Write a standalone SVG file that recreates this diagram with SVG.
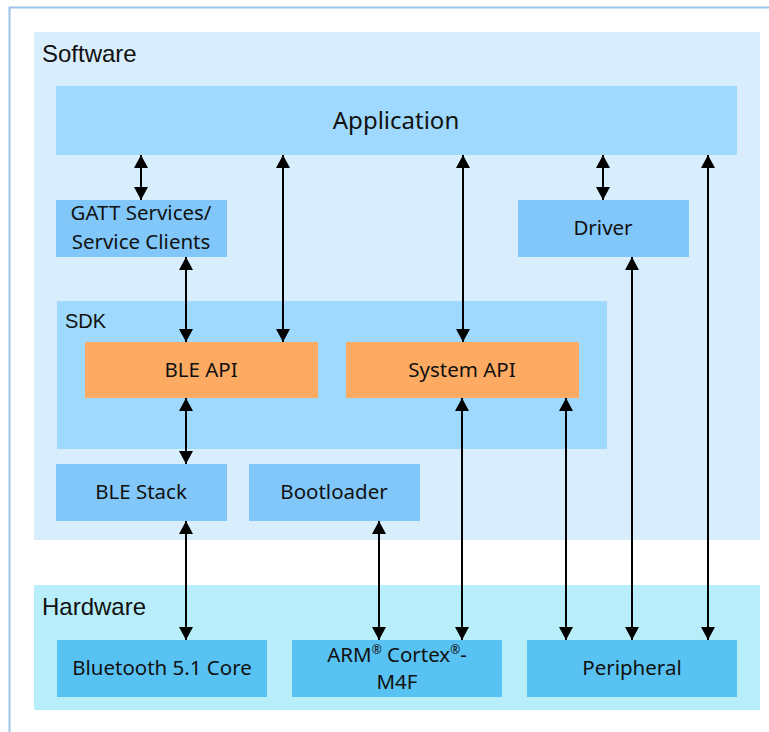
<svg xmlns="http://www.w3.org/2000/svg" width="769" height="732" viewBox="0 0 769 732">
  <defs>
    <style>
      .frame { fill: none; stroke: #9dc3e6; stroke-width: 2; }
      .sw { fill: #d9eefd; }
      .hw { fill: #b8eefa; }
      .app { fill: #9fd9fd; }
      .mod { fill: #82c7fa; }
      .api { fill: #fdab63; }
      .chip { fill: #58c2f2; }
      .area { font-family: "Liberation Sans", Arial, sans-serif; fill: #111; }
      .lbl { font-family: "Noto Sans", "Open Sans", sans-serif; font-size: 20.5px; fill: #111; text-anchor: middle; }
      .link { stroke: #000; stroke-width: 2; fill: none; marker-start: url(#head); marker-end: url(#head); }
    </style>
    <marker id="head" markerUnits="userSpaceOnUse" markerWidth="14" markerHeight="14" viewBox="0 0 14 14" refX="13" refY="7" orient="auto-start-reverse">
      <path d="M0,0 L13,7 L0,14 Z" fill="#000"/>
    </marker>
  </defs>

  <!-- outer frame -->
  <path class="frame" d="M9.5,732 V7.5 H769"/>

  <!-- layers -->
  <g id="software">
    <rect class="sw" x="34" y="32" width="726" height="508"/>
    <text class="area" x="42" y="62" style="font-size:24px">Software</text>
  </g>
  <g id="hardware">
    <rect class="hw" x="34" y="585" width="726" height="125"/>
    <text class="area" x="42" y="615" style="font-size:24px">Hardware</text>
  </g>

  <g id="application">
    <rect class="app" x="56" y="86" width="681" height="69"/>
    <text class="lbl" x="396" y="129" style="font-size:24px">Application</text>
  </g>
  <g id="gatt">
    <rect class="mod" x="56" y="200" width="171" height="57"/>
    <text class="lbl" x="141" y="220">GATT Services/</text>
    <text class="lbl" x="141" y="249">Service Clients</text>
  </g>
  <g id="driver">
    <rect class="mod" x="518" y="200" width="171" height="57"/>
    <text class="lbl" x="603" y="235">Driver</text>
  </g>

  <g id="sdk">
    <rect class="app" x="57" y="301" width="550" height="148"/>
    <text class="area" x="65" y="328" style="font-size:20px">SDK</text>
  </g>
  <g id="ble-api">
    <rect class="api" x="85" y="342" width="233" height="56"/>
    <text class="lbl" x="201" y="377">BLE API</text>
  </g>
  <g id="system-api">
    <rect class="api" x="346" y="342" width="233" height="56"/>
    <text class="lbl" x="462" y="377">System API</text>
  </g>

  <g id="ble-stack">
    <rect class="mod" x="56" y="464" width="171" height="57"/>
    <text class="lbl" x="141" y="499">BLE Stack</text>
  </g>
  <g id="bootloader">
    <rect class="mod" x="249" y="464" width="171" height="57"/>
    <text class="lbl" x="334" y="499">Bootloader</text>
  </g>

  <g id="bt-core">
    <rect class="chip" x="57" y="640" width="210" height="57"/>
    <text class="lbl" x="162" y="675">Bluetooth 5.1 Core</text>
  </g>
  <g id="cortex">
    <rect class="chip" x="292" y="640" width="210" height="57"/>
    <text class="lbl" x="397" y="662">ARM<tspan style="font-size:12px" dy="-8">®</tspan><tspan dy="8"> Cortex</tspan><tspan style="font-size:12px" dy="-8">®</tspan><tspan dy="8">-</tspan></text>
    <text class="lbl" x="397" y="689">M4F</text>
  </g>
  <g id="peripheral">
    <rect class="chip" x="527" y="640" width="210" height="57"/>
    <text class="lbl" x="632" y="675">Peripheral</text>
  </g>

  <!-- connectors -->
  <g id="connectors">
    <line class="link" x1="141" y1="155" x2="141" y2="200"/>
    <line class="link" x1="283" y1="155" x2="283" y2="342"/>
    <line class="link" x1="463" y1="155" x2="463" y2="342"/>
    <line class="link" x1="603" y1="155" x2="603" y2="200"/>
    <line class="link" x1="708" y1="155" x2="708" y2="640"/>
    <line class="link" x1="186" y1="257" x2="186" y2="342"/>
    <line class="link" x1="186" y1="398" x2="186" y2="464"/>
    <line class="link" x1="186" y1="521" x2="186" y2="640"/>
    <line class="link" x1="379" y1="521" x2="379" y2="640"/>
    <line class="link" x1="462" y1="398" x2="462" y2="640"/>
    <line class="link" x1="566" y1="398" x2="566" y2="640"/>
    <line class="link" x1="632" y1="257" x2="632" y2="640"/>
  </g>
</svg>
